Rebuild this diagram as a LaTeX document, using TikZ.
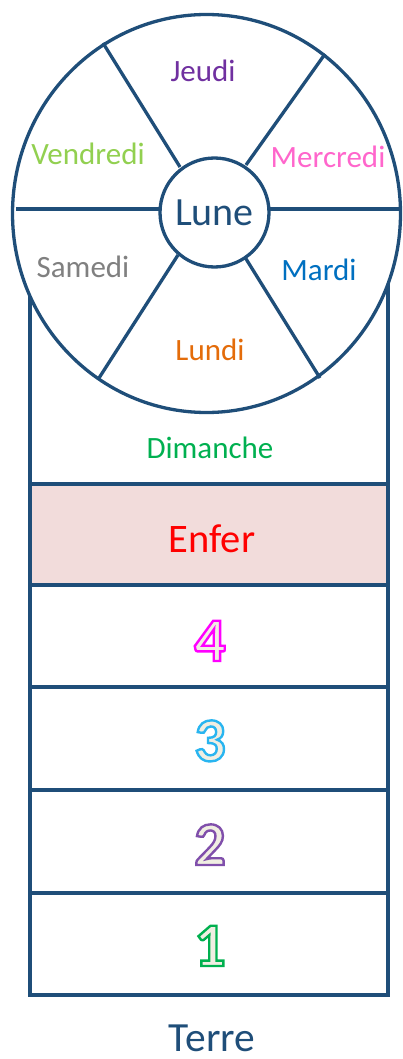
\documentclass[tikz,border=0pt]{standalone}
\usepackage{fontspec}
\setmainfont{Carlito}
\definecolor{navy}{RGB}{31,78,121}
\definecolor{enferfill}{RGB}{242,220,219}
\definecolor{cJeudi}{RGB}{112,48,160}
\definecolor{cVendredi}{RGB}{146,208,80}
\definecolor{cMercredi}{RGB}{255,102,204}
\definecolor{cSamedi}{RGB}{128,128,128}
\definecolor{cMardi}{RGB}{0,112,192}
\definecolor{cLundi}{RGB}{228,108,10}
\definecolor{cDimanche}{RGB}{0,176,80}
\definecolor{numfill}{RGB}{240,238,226}
% outlined digit: #1 = stroke colour as "r g b" (0..1), #2 = text
\newcommand\olnum[2]{%
  \textcolor{numfill}{\special{pdf:literal direct 2 Tr 2.4 w #1 RG}#2\special{pdf:literal direct 0 Tr}}}
\tikzset{
  frame/.style={draw=navy, line width=3.3pt},
  day/.style={anchor=base, inner sep=0pt, font=\fontsize{31}{36}\selectfont},
  big/.style={anchor=base, inner sep=0pt, font=\fontsize{40.5}{46}\selectfont},
  num/.style={anchor=base, inner sep=0pt, font=\fontsize{62}{70}\selectfont\bfseries},
}
\begin{document}
\begin{tikzpicture}[x=1pt,y=-1pt]
\useasboundingbox (0,0) rectangle (402,1059);
% tower
\fill[enferfill] (30,484) rectangle (388,585);
\draw[frame, line join=miter] (30,213) -- (30,995) -- (388,995) -- (388,213);
\foreach \yy in {484,585,687,790,893}{\draw[frame] (30,\yy) -- (388,\yy);}
% wheel
\filldraw[frame, fill=white] (206.5,213.5) ellipse [x radius=194pt, y radius=199pt];
\draw[frame] (103,43) -- (180,167);
\draw[frame] (325,54) -- (246,165);
\draw[frame] (16,209) -- (160,209);
\draw[frame] (269,209) -- (402,209);
\draw[frame] (178,255) -- (99,378);
\draw[frame] (243,254) -- (320,378);
\node[circle, frame, fill=white, minimum size=109pt, inner sep=0pt,
      text=navy, font=\fontsize{40}{46}\selectfont] (lune) at (214.5,212.5) {Lune};
% days
\node[day, text=cJeudi] (jeudi) at (203,82) {Jeudi};
\node[day, text=cVendredi] (vendredi) at (88,165) {Vendredi};
\node[day, text=cMercredi] (mercredi) at (328,168) {Mercredi};
\node[day, text=cSamedi] (samedi) at (83,277) {Samedi};
\node[day, text=cMardi] (mardi) at (319,280) {Mardi};
\node[day, text=cLundi] (lundi) at (210,360) {Lundi};
\node[day, text=cDimanche] (dimanche) at (210,458) {Dimanche};
% rows
\node[big, text=red] (enfer) at (212,552) {Enfer};
\node[num] (n4) at (210,661) {\olnum{1 0 1}{4}};
\node[num] (n3) at (210,761) {\olnum{0.16 0.71 0.94}{3}};
\node[num] (n2) at (210,865) {\olnum{0.50 0.31 0.67}{2}};
\node[num] (n1) at (210,966) {\olnum{0 0.69 0.31}{1}};
\node[big, text=navy, font=\fontsize{41.5}{46}\selectfont] (terre) at (212,1051) {Terre};
\end{tikzpicture}
\end{document}
